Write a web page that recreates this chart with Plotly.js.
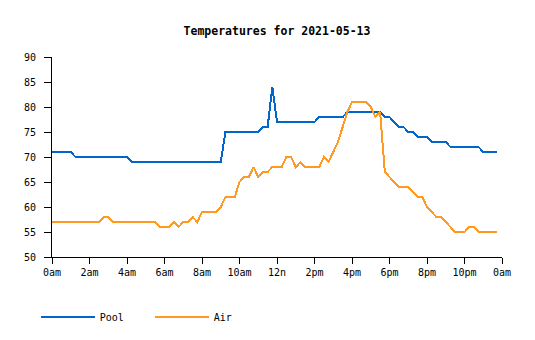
<!DOCTYPE html>
<html>
<head>
<meta charset="utf-8">
<script src="https://cdn.plot.ly/plotly-3.0.1.min.js"></script>
<style>
html,body{margin:0;padding:0;background:#fff;}
#chart{width:535px;height:340px;}
#chart .js-line{shape-rendering:crispEdges;}
</style>
</head>
<body>
<div id="chart"></div>
<script>
// Sample times in hours since midnight (15-minute readings)
const hours = [
  0,0.25,0.5,0.75,1,1.25,1.5,1.75,2,2.25,2.5,2.75,3,3.25,3.5,3.75,
  4,4.25,4.5,4.75,5,5.25,5.5,5.75,6,6.25,6.5,6.75,7,7.25,7.5,7.75,
  8,8.25,8.5,8.75,9,9.25,9.5,9.75,10,10.25,10.5,10.75,11,11.25,11.5,11.75,
  12,12.25,12.5,12.75,13,13.25,13.5,13.75,14,14.25,14.5,14.75,15,15.25,15.5,15.75,
  16,16.25,16.5,16.75,17,17.25,17.5,17.75,18,18.25,18.5,18.75,19,19.25,19.5,19.75,
  20,20.25,20.5,20.75,21,21.25,21.5,21.75,22,22.25,22.5,22.75,23,23.25,23.5,23.75
];
const pool = [
  71,71,71,71,71,70,70,70,70,70,70,70,70,70,70,70,
  70,69,69,69,69,69,69,69,69,69,69,69,69,69,69,69,
  69,69,69,69,69,75,75,75,75,75,75,75,75,76,76,84,
  77,77,77,77,77,77,77,77,77,78,78,78,78,78,78,79,
  79,79,79,79,79,79,79,78,78,77,76,76,75,75,74,74,
  74,73,73,73,73,72,72,72,72,72,72,72,71,71,71,71
];
const air = [
  57,57,57,57,57,57,57,57,57,57,57,58,58,57,57,57,
  57,57,57,57,57,57,57,56,56,56,57,56,57,57,58,57,
  59,59,59,59,60,62,62,62,65,66,66,68,66,67,67,68,
  68,68,70,70,68,69,68,68,68,68,70,69,71,73,76,79,
  81,81,81,81,80,78,79,67,66,65,64,64,64,63,62,62,
  60,59,58,58,57,56,55,55,55,56,56,55,55,55,55,55
];
const tickHours = [0,2,4,6,8,10,12,14,16,18,20,22,24];
const tickLabels = ['0am','2am','4am','6am','8am','10am','12n','2pm','4pm','6pm','8pm','10pm','0am'];
const yTicks = [50,55,60,65,70,75,80,85,90];
const seriesNames = ['Pool','Air'];
const titleText = 'Temperatures for 2021-05-13';

const FONT = 'DejaVu Sans Mono, monospace';

const traces = [
  {x: hours, y: pool, name: seriesNames[0], type: 'scatter', mode: 'lines',
   line: {color: '#0066cc', width: 2}},
  {x: hours, y: air, name: seriesNames[1], type: 'scatter', mode: 'lines',
   line: {color: '#ff9922', width: 2}}
];

const layout = {
  width: 535, height: 340,
  margin: {l: 52, r: 33, t: 57, b: 83, pad: 0, autoexpand: false},
  paper_bgcolor: '#fff', plot_bgcolor: '#fff',
  font: {family: FONT, size: 10, color: '#000'},
  title: {text: '<b>' + titleText + '</b>', font: {family: FONT, size: 11.5, color: '#000'},
          x: 0.5, xref: 'paper', xanchor: 'center', y: 0.909, yref: 'container', yanchor: 'middle'},
  xaxis: {range: [0, 24], tickvals: tickHours, ticktext: tickLabels,
          showgrid: false, zeroline: false, showline: true, linecolor: '#000', linewidth: 1,
          ticks: 'outside', ticklen: 6, tickcolor: '#000', tickwidth: 1,
          tickfont: {family: FONT, size: 10, color: '#000'}},
  yaxis: {range: [50, 90], tickvals: yTicks,
          showgrid: false, zeroline: false, showline: true, linecolor: '#000', linewidth: 1,
          ticks: 'outside', ticklen: 7, tickcolor: '#000', tickwidth: 1, ticklabelstandoff: 6,
          tickfont: {family: FONT, size: 10, color: '#000'}},
  showlegend: true,
  legend: {orientation: 'h', x: -0.036, xanchor: 'left', y: -0.227, yanchor: 'top',
           font: {family: FONT, size: 10, color: '#000'}, itemwidth: 54, entrywidth: 45,
           bgcolor: 'rgba(0,0,0,0)'}
};

Plotly.newPlot('chart', traces, layout, {displayModeBar: false, staticPlot: true});
</script>
</body>
</html>
